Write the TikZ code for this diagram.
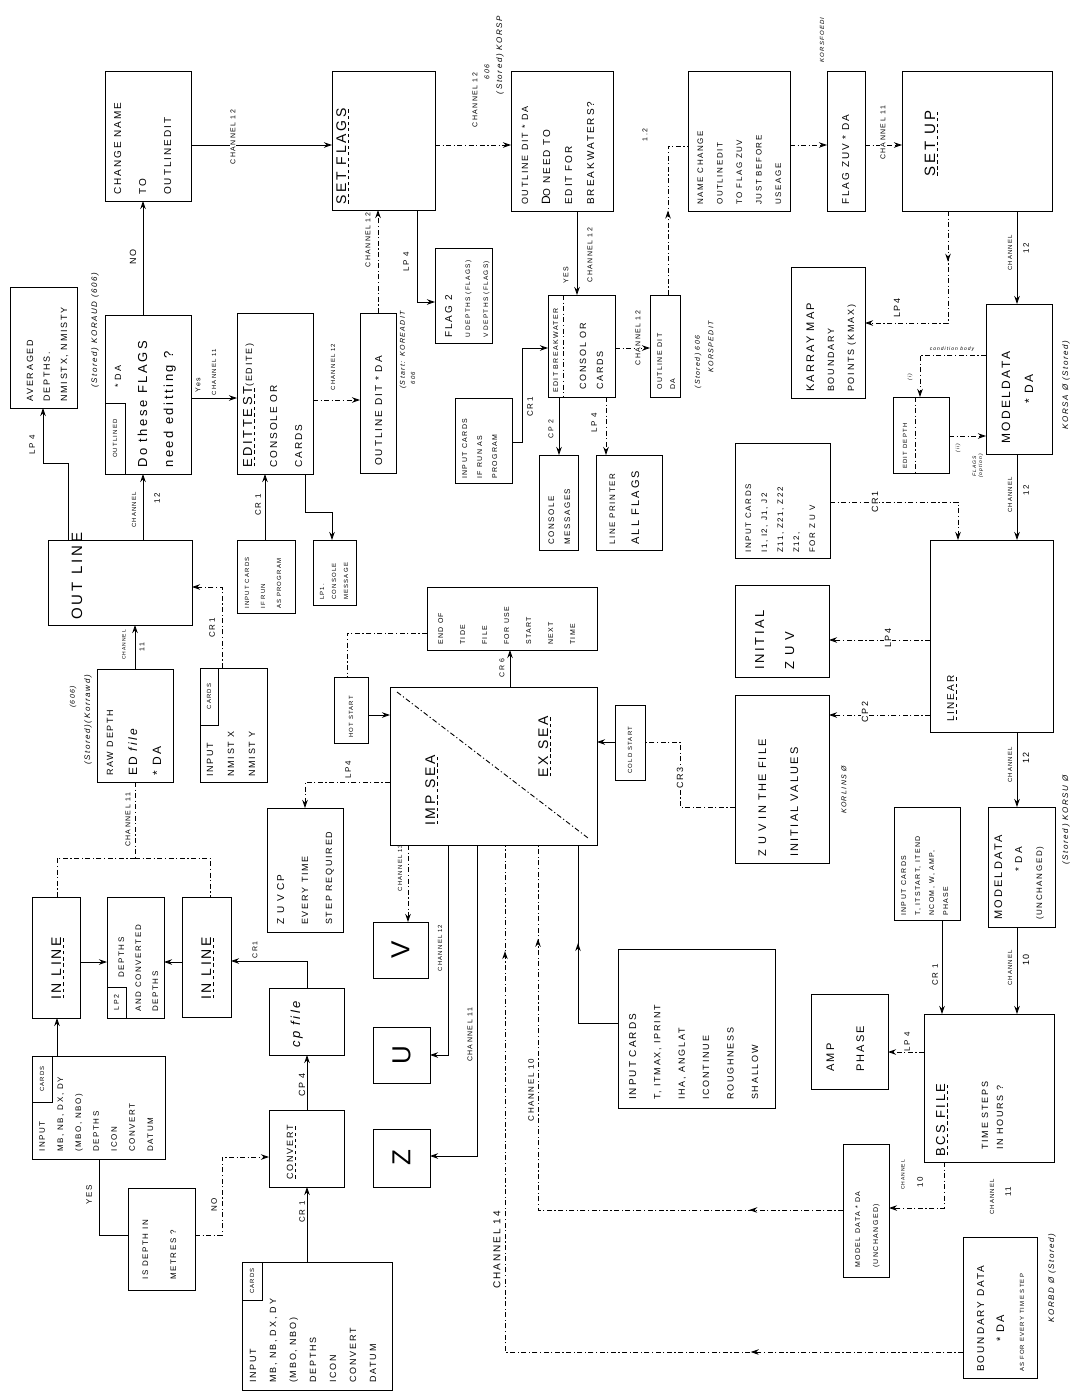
\documentclass[tikz,border=0pt]{standalone}
\usepackage{fontspec}
\setmainfont{Liberation Sans}[LetterSpace=20]
\usetikzlibrary{arrows.meta,calc,decorations.markings}
\newcommand\fz[2]{\fontsize{#1}{#2}\selectfont}
\newcommand\dul[1]{\setbox0\hbox{#1}\rlap{\raisebox{-3pt}{\hbox to \wd0{\xleaders\hbox to 6pt{\hss\vrule width 3.5pt height 0.9pt\hss}\hfill}}}\box0}
\newcommand\mkbox[5]{\node[bxs, minimum width={(#4-#2)*1pt}, minimum height={(#5-#3)*1pt}] (#1) at ({(#2+#4)/2},{(#3+#5)/2}) {};}
\newcommand\btext[5]{\node[txs, font={#4}] (#1) at (#2,#3) {\begin{tabular}[t]{@{}l@{}}#5\end{tabular}};}
\newcommand\blab[5]{\node[lbs, font={#4}] (#1) at (#2,#3) {#5};}
\newcommand\wlab[5]{\node[lbs, fill=white, font={#4}] (#1) at (#2,#3) {#5};}
\tikzset{
 bxs/.style={draw, line width=0.9pt, inner sep=0pt, outer sep=0pt},
 txs/.style={rotate=90, anchor=base west, inner sep=0pt},
 lbs/.style={rotate=90, inner sep=1pt},
 ln/.style={line width=0.9pt},
 ar/.style={ln, -{Stealth[length=8pt,width=5.5pt]}},
 dsh/.style={dash pattern=on 5pt off 2.5pt on 1.2pt off 2.5pt},
 marr/.style={postaction={decorate,decoration={markings,mark=at position #1 with {\arrow{Stealth[length=8pt,width=5.5pt]}}}}},
}
\begin{document}
\begin{tikzpicture}[x=1pt,y=-1pt]
\fill[white] (0,0) rectangle (1081,1393);
\useasboundingbox (0,0) rectangle (1081,1393);

% ---------- boxes ----------
\mkbox{chname}{105}{71}{191}{201}
\btext{chnameT}{121}{195}{\fz{10}{25}}{CHANGE NAME\\TO\\OUTLINEDIT}

\mkbox{avg}{10}{287}{77}{408}
\btext{avgT}{33}{402}{\fz{9}{17}}{AVERAGED\\DEPTHS.\\NMISTX, NMISTY}

\mkbox{flags}{105}{315}{191}{474}
\mkbox{flagsub}{105}{403}{125}{474}
\blab{flagsubT}{115}{438.5}{\fz{6}{7}}{OUTLINED}
\btext{flagsT}{121}{468}{\fz{13}{26}}{{\fz{9}{26}\hspace*{80pt}* DA}\\Do these FLAGS\\need editting ?}

\mkbox{editt}{237}{313}{313}{474}
\btext{edittT}{252}{468}{\fz{10}{25}}{{\fz{13}{25}\dul{EDITTEST}}{\fz{9}{25}(EDITE)}\\CONSOLE OR\\CARDS}

\mkbox{setflags}{332}{71}{435}{210}
\btext{setflagsT}{346}{205}{\fz{14}{20}}{\dul{SET FLAGS}}

\mkbox{outdec}{511}{71}{613}{211}
\btext{outdecT}{528}{205}{\fz{10}{22}}{{\fz{9}{22}OUTLINE DIT * DA}\\{\fz{12}{22}D}O NEED TO\\EDIT FOR\\BREAKWATERS?}

\mkbox{flag2}{435}{248}{492}{343}
\btext{flag2T}{452}{338}{\fz{6.5}{18}}{{\fz{10}{18}FLAG 2}\\U DEPTHS (FLAGS)\\V DEPTHS (FLAGS)}

\mkbox{outdit1}{360}{313}{396}{473}
\btext{outdit1T}{382}{466}{\fz{10}{12}}{OUTLINE DIT * DA}

\mkbox{editbw}{548}{295}{615}{397}
\btext{editbwA}{558}{393}{\fz{7}{8}}{EDIT BREAKWATER}
\draw[ln,dsh] ($(editbw.north west)+(15,0)$) -- ($(editbw.south west)+(15,0)$);
\btext{editbwB}{586}{390}{\fz{9}{17}}{CONSOL OR\\CARDS}

\mkbox{outdit2}{650}{295}{680}{397}
\btext{outdit2T}{662}{390}{\fz{7}{13}}{OUTLINE DIT\\* DA}

\mkbox{inrun}{455}{398}{512}{483}
\btext{inrunT}{467}{479}{\fz{7}{15}}{INPUT CARDS\\IF RUN AS\\PROGRAM}

\mkbox{consmsg}{539}{455}{578}{550}
\btext{consmsgT}{554}{545}{\fz{8}{16}}{CONSOLE\\MESSAGES}

\mkbox{lineprt}{596}{455}{662}{550}
\btext{lineprtT}{615}{545}{\fz{8}{24}}{LINE PRINTER\\{\fz{11}{24}ALL FLAGS}}

\mkbox{namech}{688}{71}{790}{211}
\btext{namechT}{703}{205}{\fz{8}{19.5}}{NAME CHANGE\\OUTLINEDIT\\TO FLAG ZUV\\JUST BEFORE\\USEAGE}

\mkbox{flagzuv}{827}{71}{865}{211}
\btext{flagzuvT}{849}{205}{\fz{10}{12}}{FLAG ZUV * DA}

\mkbox{setup}{902}{71}{1052}{211}
\btext{setupT}{935}{177}{\fz{15}{18}}{\dul{SET UP}}

\mkbox{karray}{791}{267}{865}{398}
\btext{karrayT}{814}{392}{\fz{9}{20}}{{\fz{11}{20}KARRAY MAP}\\BOUNDARY\\POINTS (KMAX)}

\mkbox{mdata}{986}{304}{1052}{454}
\btext{mdataT}{1010}{444}{\fz{12}{23}}{MODELDATA\\\hspace*{40pt}* DA}

\mkbox{editdep}{893}{397}{949}{473}
\btext{editdepT}{907}{469}{\fz{6}{8}}{EDIT DEPTH}
\draw[ln,dsh] ($(editdep.north west)+(22,0)$) -- ($(editdep.south west)+(22,0)$);

\mkbox{incards1}{735}{443}{830}{558}
\btext{incards1T}{751}{553}{\fz{8}{16}}{INPUT CARDS\\I1, I2, J1, J2\\Z11, Z21, Z22\\Z12,\\FOR Z U V}

\mkbox{linear}{930}{540}{1053}{732}
\btext{linearT}{954}{722}{\fz{10}{12}}{\dul{LINEAR}}

\mkbox{initial}{735}{585}{829}{677}
\btext{initialT}{764}{670}{\fz{13}{30}}{INITIAL\\Z U V}

\mkbox{zuvfile}{735}{695}{829}{863}
\btext{zuvfileT}{766}{857}{\fz{11}{32}}{Z U V IN THE FILE\\INITIAL VALUES}

\mkbox{mdata2}{988}{807}{1055}{927}
\btext{mdata2T}{1002}{920}{\fz{10}{20}}{{\fz{11}{20}MODELDATA}\\\hspace*{48pt}* DA\\{\fz{8}{20}(UNCHANGED)}}

\mkbox{incards2}{894}{807}{960}{920}
\btext{incards2T}{906}{916}{\fz{7}{14}}{INPUT CARDS\\T, ITSTART, ITEND\\NCOM, W, AMP,\\PHASE}

\mkbox{bcs}{924}{1014}{1054}{1162}
\btext{bcsA}{945}{1157}{\fz{13}{16}}{\dul{BCS FILE}}
\btext{bcsB}{988}{1150}{\fz{9}{15}}{TIME STEPS\\IN HOURS ?}

\mkbox{amp}{811}{994}{888}{1089}
\btext{ampT}{834}{1072}{\fz{11}{30}}{AMP\\PHASE}

\mkbox{mdsmall}{843}{1144}{889}{1277}
\btext{mdsmallT}{860}{1268}{\fz{7}{18}}{MODEL DATA * DA\\(UNCHANGED)}

\mkbox{bound}{963}{1237}{1037}{1378}
\btext{boundT}{984}{1372}{\fz{10}{20}}{BOUNDARY DATA\\\hspace*{30pt}{\fz{11}{20}* DA}\\{\fz{6}{20}AS FOR EVERY TIME STEP}}

\mkbox{imp}{390}{687}{597}{845}
\draw[ln,dsh] ($(imp.north west)+(7,5)$) -- ($(imp.south east)+(-9,-7)$);
\btext{impA}{435}{826}{\fz{14}{16}}{\dul{IMP SEA}}
\btext{impB}{548}{778}{\fz{14}{16}}{\dul{EX SEA}}

\mkbox{endtide}{427}{587}{597}{650}
\btext{endtideT}{443}{645}{\fz{7}{22}}{END OF\\TIDE\\FILE\\FOR USE\\START\\NEXT\\TIME}

\mkbox{hot}{334}{677}{368}{743}
\btext{hotT}{353}{738}{\fz{6}{8}}{HOT START}

\mkbox{cold}{615}{705}{645}{780}
\btext{coldT}{632}{774}{\fz{6}{8}}{COLD START}

\mkbox{zuvcp}{267}{808}{343}{932}
\btext{zuvcpT}{284}{925}{\fz{9}{24}}{{\fz{10}{24}Z U V CP}\\EVERY TIME\\STEP REQUIRED}

\mkbox{boxV}{373}{922}{428}{978}
\blab{boxVT}{400.5}{950}{\fz{26}{28}}{V}
\mkbox{boxU}{373}{1027}{430}{1083}
\blab{boxUT}{401.5}{1055}{\fz{26}{28}}{U}
\mkbox{boxZ}{373}{1129}{430}{1187}
\blab{boxZT}{401.5}{1158}{\fz{26}{28}}{Z}

\mkbox{incards3}{618}{949}{775}{1108}
\btext{incards3T}{636}{1100}{\fz{9}{24.4}}{{\fz{10}{24.4}INPUT CARDS}\\T, ITMAX, IPRINT\\IHA, ANGLAT\\ICONTINUE\\ROUGHNESS\\SHALLOW}

\mkbox{outline}{48}{540}{192}{625}
\btext{outlineT}{82}{620}{\fz{15}{18}}{OUT LINE}

\mkbox{raw}{97}{669}{173}{782}
\btext{rawT}{113}{776}{\fz{9}{24}}{RAW DEPTH\\{\fz{12}{24}ED \itshape file}\\{\fz{12}{24}* DA}}

\mkbox{nmist}{200}{668}{267}{782}
\mkbox{nmistsub}{200}{668}{218}{725}
\blab{nmistsubT}{209}{696.5}{\fz{6}{7}}{CARDS}
\btext{nmistT}{213}{777}{\fz{9}{21}}{INPUT\\NMIST X\\NMIST Y}

\mkbox{inrun2}{237}{540}{295}{613}
\btext{inrun2T}{249}{609}{\fz{6}{16}}{INPUT CARDS\\IF RUN\\AS PROGRAM}

\mkbox{cons2}{313}{540}{356}{605}
\btext{cons2T}{324}{600}{\fz{6}{12}}{LP1.\\CONSOLE\\MESSAGE}

\mkbox{inline1}{32}{897}{80}{1018}
\btext{inline1T}{61}{1000}{\fz{14}{16}}{\dul{IN LINE}}

\mkbox{depths}{107}{897}{164}{1018}
\mkbox{depthsub}{107}{987}{126}{1018}
\blab{depthsubT}{116.5}{1002.5}{\fz{7}{8}}{LP2}
\btext{depthsT}{124}{1012}{\fz{8}{17}}{\hspace*{34pt}DEPTHS\\AND CONVERTED\\DEPTHS}

\mkbox{inline2}{182}{897}{231}{1017}
\btext{inline2T}{211}{1000}{\fz{14}{16}}{\dul{IN LINE}}

\mkbox{cpfile}{269}{988}{344}{1055}
\btext{cpfileT}{300}{1048}{\fz{13}{16}\itshape}{cp file}

\mkbox{convert}{269}{1110}{344}{1187}
\btext{convertT}{293}{1180}{\fz{9}{12}}{\dul{CONVERT}}

\mkbox{incardsA}{32}{1056}{165}{1159}
\mkbox{incardsAsub}{32}{1056}{52}{1102}
\blab{incardsAsubT}{42}{1079}{\fz{6}{7}}{CARDS}
\btext{incardsAT}{45}{1152}{\fz{8}{18}}{INPUT\\MB, NB, DX, DY\\(MBO, NBO)\\DEPTHS\\ICON\\CONVERT\\DATUM}

\mkbox{incardsB}{242}{1262}{392}{1390}
\mkbox{incardsBsub}{242}{1262}{262}{1300}
\blab{incardsBsubT}{252}{1281}{\fz{6}{7}}{CARDS}
\btext{incardsBT}{256}{1383}{\fz{9}{20}}{INPUT\\MB, NB, DX, DY\\(MBO, NBO)\\DEPTHS\\ICON\\CONVERT\\DATUM}

\mkbox{isdepth}{128}{1188}{195}{1290}
\btext{isdepthT}{148}{1280}{\fz{8}{28}}{IS DEPTH IN\\METRES ?}

% ---------- connectors ----------
\draw[ar] (flags.north -| 143,0) -- (chname.south -| 143,0);
\draw[ar] (chname.east |- 0,145) -- (setflags.west |- 0,145);
\draw[ar] (flags.east |- 0,398) -- (editt.west |- 0,398);
\draw[ar,dsh] (editt.east |- 0,400) -- (outdit1.west |- 0,400);
\draw[ar,dsh] (outdit1.north -| 378,0) -- (setflags.south -| 378,0);
\draw[ar] (setflags.south -| 417,0) -- (417,302) -- (flag2.west |- 0,302);
\draw[ar,dsh] (setflags.east |- 0,145) -- (outdec.west |- 0,145);
\draw[ar] (outdec.south -| 577,0) -- (editbw.north -| 577,0);
\draw[ar,dsh] (editbw.east |- 0,348) -- (outdit2.west |- 0,348);
\draw[ln,dsh,marr=0.5] (outdit2.north -| 668,0) -- (668,146) -- (namech.west |- 0,146);
\draw[ar] (inrun.east |- 0,442) -- (522,442) -- (522,348) -- (editbw.west |- 0,348);
\draw[ar] (editbw.south -| 559,0) -- (consmsg.north -| 559,0);
\draw[ar,dsh] (editbw.south -| 606,0) -- (lineprt.north -| 606,0);
\draw[ar,dsh] (namech.east |- 0,145) -- (flagzuv.west |- 0,145);
\draw[ar,dsh] (flagzuv.east |- 0,145) -- (setup.west |- 0,145);
\draw[ar,dsh,marr=0.26] (setup.south -| 948,0) -- (948,323) -- (karray.east |- 0,323);
\draw[ar] (setup.south -| 1017,0) -- (mdata.north -| 1017,0);
\draw[ar,dsh] (mdata.west |- 0,355) -- (920,355) -- (editdep.north -| 920,0);
\draw[ar,dsh] (editdep.east |- 0,436) -- (mdata.west |- 0,436);
\draw[ar] (mdata.south -| 1017,0) -- (linear.north -| 1017,0);
\draw[ar,dsh] (incards1.east |- 0,502) -- (958,502) -- (linear.north -| 958,0);
\draw[ar,dsh] (linear.west |- 0,640) -- (initial.east |- 0,640);
\draw[ar,dsh] (linear.west |- 0,715) -- (zuvfile.east |- 0,715);
\draw[ar] (linear.south -| 1017,0) -- (mdata2.north -| 1017,0);
\draw[ar] (incards2.south -| 942,0) -- (bcs.north -| 942,0);
\draw[ar] (mdata2.south -| 1017,0) -- (bcs.north -| 1017,0);
\draw[ar,dsh] (bcs.west |- 0,1052) -- (amp.east |- 0,1052);
\draw[ar,dsh] (bcs.south -| 944,0) -- (944,1208) -- (mdsmall.east |- 0,1208);
\draw[ln,dsh,marr=0.14,marr=0.86] (mdsmall.west |- 0,1210) -- (538,1210) -- (imp.south -| 538,0);
\draw[ln,dsh,marr=0.22,marr=0.89] (bound.west |- 0,1352) -- (505,1352) -- (imp.south -| 505,0);
\draw[ln,marr=0.55] (incards3.west |- 0,1023) -- (578,1023) -- (imp.south -| 578,0);
\draw[ar,dsh] (imp.south -| 408,0) -- (boxV.north -| 408,0);
\draw[ar] (imp.south -| 448,0) -- (448,1055) -- (boxU.east |- 0,1055);
\draw[ar] (imp.south -| 477,0) -- (477,1156) -- (boxZ.east |- 0,1156);
\draw[ar] (imp.north -| 510,0) -- (endtide.south -| 510,0);
\draw[ln,dsh] (endtide.west |- 0,633) -- (347,633) -- (hot.north -| 347,0);
\draw[ar] (hot.east |- 0,715) -- (imp.west |- 0,715);
\draw[ar,dsh] (imp.west |- 0,782) -- (305,782) -- (zuvcp.north -| 305,0);
\draw[ar] (cold.west |- 0,742) -- (imp.east |- 0,742);
\draw[ln,dsh] (zuvfile.west |- 0,807) -- (680,807) -- (680,742) -- (cold.east |- 0,742);
\draw[ar] (raw.north -| 135,0) -- (outline.south -| 135,0);
\draw[ar] (outline.north -| 143,0) -- (flags.south -| 143,0);
\draw[ar] (outline.north -| 68,0) -- (68,463) -- (43,463) -- (avg.south -| 43,0);
\draw[ar,dsh] (nmist.north -| 222,0) -- (222,587) -- (outline.east |- 0,587);
\draw[ar] (inrun2.north -| 265,0) -- (editt.south -| 265,0);
\draw[ar] (editt.south -| 305,0) -- (305,512) -- (332,512) -- (cons2.north -| 332,0);
\draw[ln,dsh] (raw.south -| 135,0) -- (135,858) coordinate (split);
\draw[ln,dsh] (split) -- (57,858) -- (inline1.north -| 57,0);
\draw[ln,dsh] (split) -- (210,858) -- (inline2.north -| 210,0);
\draw[ar] (inline1.east |- 0,962) -- (depths.west |- 0,962);
\draw[ar] (inline2.west |- 0,962) -- (depths.east |- 0,962);
\draw[ar] (cpfile.north -| 307,0) -- (307,961) -- (inline2.east |- 0,961);
\draw[ar] (convert.north -| 307,0) -- (cpfile.south -| 307,0);
\draw[ar] (incardsB.north -| 307,0) -- (convert.south -| 307,0);
\draw[ar] (incardsA.north -| 57,0) -- (inline1.south -| 57,0);
\draw[ln] (isdepth.west |- 0,1235) -- (99,1235) -- (incardsA.south -| 99,0);
\draw[ar,dsh] (isdepth.east |- 0,1235) -- (222,1235) -- (222,1157) -- (convert.west |- 0,1157);

% ---------- labels ----------
\blab{lNO}{133}{257}{\fz{9}{10}}{NO}
\wlab{lch1}{233}{137}{\fz{7}{8}}{CHANNEL 12}
\blab{lyes1}{198}{385}{\fz{7}{8}}{Yes}
\blab{lch2}{214}{372}{\fz{6}{7}}{CHANNEL 11}
\blab{lch3}{333}{367}{\fz{6}{7}}{CHANNEL 12}
\blab{lch4}{368}{240}{\fz{7}{8}}{CHANNEL 12}
\blab{llp1}{406}{262}{\fz{8}{9}}{LP 4}
\blab{lch5}{475}{100}{\fz{7}{8}}{CHANNEL 12}
\blab{l606a}{487}{72}{\fz{7}{8}\itshape}{606}
\blab{lstA}{500}{55}{\fz{8}{9}\itshape}{(Stored) KORSP}
\blab{lyes2}{566}{275}{\fz{7}{8}}{YES}
\blab{lch6}{590}{255}{\fz{7}{8}}{CHANNEL 12}
\wlab{lch7}{638}{338}{\fz{7}{8}}{CHANNEL 12}
\blab{l12}{645}{135}{\fz{7}{8}}{1.2}
\blab{lcr1a}{530}{407}{\fz{8}{9}}{CR1}
\blab{lcp2a}{551}{429}{\fz{7}{8}}{CP 2}
\blab{llp4b}{594}{423}{\fz{8}{9}}{LP 4}
\blab{lkorsf}{822}{40}{\fz{6}{7}\itshape}{KORSFOEDI}
\wlab{lch8}{883}{133}{\fz{7}{8}}{CHANNEL 11}
\blab{llp4c}{897}{308}{\fz{9}{10}}{LP4}
\blab{lch9a}{1010}{253}{\fz{6}{7}}{CHANNEL}
\blab{lch9b}{1026}{248}{\fz{8}{9}}{12}
\node[font={\fz{5}{6}\itshape}, inner sep=1pt] (lcond) at (952,349) {condition body};
\blab{li}{910}{377}{\fz{5}{6}\itshape}{(i)}
\blab{lii}{958}{448}{\fz{5}{6}\itshape}{(ii)}
\node[lbs, font={\fz{5}{6}\itshape}, align=center] (lflg) at (978,466) {FLAGS\\(option)};
\blab{lkorsa}{1066}{385}{\fz{8}{9}\itshape}{KORSA Ø (Stored)}
\blab{lch10a}{1010}{495}{\fz{6}{7}}{CHANNEL}
\blab{lch10b}{1026}{490}{\fz{8}{9}}{12}
\wlab{lcr1b}{875}{502}{\fz{9}{10}}{CR1}
\wlab{llp4d}{888}{638}{\fz{9}{10}}{LP4}
\wlab{lcp2b}{865}{712}{\fz{9}{10}}{CP2}
\blab{lkorlins}{844}{790}{\fz{7}{8}\itshape}{KORLINS Ø}
\blab{lch11a}{1010}{765}{\fz{6}{7}}{CHANNEL}
\blab{lch11b}{1026}{758}{\fz{9}{10}}{12}
\blab{lkorsu}{1066}{820}{\fz{8}{9}\itshape}{(Stored) KORSU Ø}
\blab{lcr1c}{935}{975}{\fz{8}{9}}{CR 1}
\blab{lch12a}{1010}{968}{\fz{6}{7}}{CHANNEL}
\blab{lch12b}{1026}{960}{\fz{9}{10}}{10}
\blab{llp4e}{907}{1042}{\fz{8}{9}}{LP 4}
\blab{lch13a}{903}{1175}{\fz{5}{6}}{CHANNEL}
\blab{lch13b}{920}{1182}{\fz{8}{9}}{10}
\blab{lch14a}{992}{1197}{\fz{6}{7}}{CHANNEL}
\blab{lch14b}{1008}{1192}{\fz{8}{9}}{11}
\blab{lkorbd}{1052}{1278}{\fz{8}{9}\itshape}{KORBD Ø (Stored)}
\blab{lch15}{531}{1090}{\fz{8}{9}}{CHANNEL 10}
\blab{lch16}{497}{1250}{\fz{10}{11}}{CHANNEL 14}
\blab{lch17}{400}{868}{\fz{6}{7}}{CHANNEL 13}
\blab{lch18}{440}{948}{\fz{6}{7}}{CHANNEL 12}
\blab{lch19}{470}{1035}{\fz{7}{8}}{CHANNEL 11}
\blab{lcr6}{502}{668}{\fz{7}{8}}{CR 6}
\blab{llp4f}{348}{770}{\fz{8}{9}}{LP4}
\wlab{lcr3}{680}{778}{\fz{9}{10}}{CR3}
\blab{lch20a}{124}{645}{\fz{5}{6}}{CHANNEL}
\blab{lch20b}{142}{647}{\fz{7}{8}}{11}
\blab{lch21a}{134}{510}{\fz{6}{7}}{CHANNEL}
\blab{lch21b}{157}{498}{\fz{8}{9}}{12}
\blab{llp4g}{32}{445}{\fz{8}{9}}{LP 4}
\blab{lcr1d}{212}{628}{\fz{8}{9}}{CR1}
\blab{lcr1e}{258}{505}{\fz{8}{9}}{CR 1}
\blab{lch22}{128}{820}{\fz{7}{8}}{CHANNEL 11}
\blab{l606b}{73}{697}{\fz{7}{8}\itshape}{(606)}
\blab{lstB}{88}{720}{\fz{8}{9}\itshape}{(Stored)(Korrawd)}
\blab{lstart}{403}{350}{\fz{7}{8}\itshape}{(Start: KOREADIT}
\blab{l606c}{413}{378}{\fz{6}{7}\itshape}{606}
\blab{lst2a}{698}{362}{\fz{7}{8}\itshape}{(Stored) 606}
\blab{lst2b}{711}{347}{\fz{7}{8}\itshape}{KORSPEDIT}
\blab{lkoraud}{95}{330}{\fz{8}{9}\itshape}{(Stored) KORAUD (606)}
\blab{lcr1f}{255}{950}{\fz{7}{8}}{CR1}
\wlab{lcp4}{302}{1085}{\fz{9}{10}}{CP 4}
\wlab{lcr1g}{302}{1212}{\fz{8}{9}}{CR 1}
\blab{lyes3}{89}{1195}{\fz{8}{9}}{YES}
\blab{lno2}{214}{1205}{\fz{8}{9}}{NO}
\end{tikzpicture}
\end{document}
